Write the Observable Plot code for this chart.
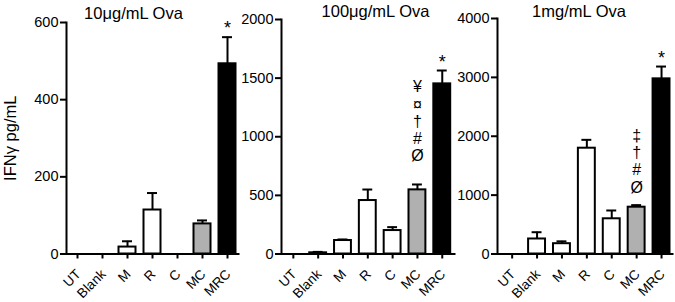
<!DOCTYPE html>
<html><head><meta charset="utf-8">
<script src="https://cdn.jsdelivr.net/npm/d3@7"></script>
<script src="https://cdn.jsdelivr.net/npm/@observablehq/plot@0.6"></script>
<style>
html,body{margin:0;padding:0;background:#fff;}
#chart{position:relative;width:675px;height:302px;font-family:"Liberation Sans",Arial,Helvetica,sans-serif;}
#chart svg{position:absolute;left:0;top:0;}
</style></head><body><div id="chart"></div>
<script>
// ---- data ----
const categories = ["UT", "Blank", "M", "R", "C", "MC", "MRC"];
const titles = ["10\u03bcg/mL Ova", "100\u03bcg/mL Ova", "1mg/mL Ova"];
const yLabel = "IFN\u03b3 pg/mL";

const mean10 = [0, 0, 18, 114, 0, 78, 493];
const err10  = [0, 0, 15, 44, 0, 9, 69];
const mean100 = [0, 10, 115, 456, 200, 547, 1451];
const err100  = [0, 8, 9, 94, 29, 46, 114];
const mean1mg = [0, 255, 175, 1797, 598, 795, 2975];
const err1mg  = [0, 115, 40, 142, 141, 35, 209];

const ticks10 = [0, 200, 400, 600];
const ticks100 = [0, 500, 1000, 1500, 2000];
const ticks1mg = [0, 1000, 2000, 3000, 4000];

const starCat = "MRC";
const symCat = "MC";
const sym10 = [];
const sym100 = ["\u00a5", "\u00a4", "\u2020", "#", "\u00d8"];
const sym1mg = ["\u2021", "\u2020", "#", "\u00d8"];

// ---- layout / style ----
const FONT = '"Liberation Sans", Arial, Helvetica, sans-serif';
const fillFor = c => c === "MC" ? "#b0b0b0" : c === "MRC" ? "#000" : "#fff";

const panels = [
  {title: titles[0], mean: mean10, err: err10, ticks: ticks10, syms: sym10,
   ml: 66, mr: 675 - 238, mt: 22, range: [68.5, 235.5], tdx: -19, tdy: -4, sdy: -12, ylab: true},
  {title: titles[1], mean: mean100, err: err100, ticks: ticks100, syms: sym100,
   ml: 281, mr: 675 - 454, mt: 19, range: [284.4, 450.2], tdx: 7.5, tdy: -2.5, sdy: -23},
  {title: titles[2], mean: mean1mg, err: err1mg, ticks: ticks1mg, syms: sym1mg,
   ml: 497, mr: 3, mt: 18, range: [503.2, 669.5], tdx: -6, tdy: -1.5, sdy: -12.5}
];

const chart = document.getElementById("chart");

for (const p of panels) {
  const data = categories.map((c, i) => ({cat: c, mean: p.mean[i], top: p.mean[i] + p.err[i]}));
  const errData = data.filter(d => d.top > d.mean);
  const star = data.filter(d => d.cat === starCat);
  const symData = p.syms.length ? data.filter(d => d.cat === symCat) : [];
  const ymax = p.ticks[p.ticks.length - 1];

  const marks = [
    Plot.ruleX(errData, {x: "cat", y1: "mean", y2: "top", stroke: "#000", strokeWidth: 2}),
    Plot.tickY(errData, {x: "cat", y: "top", stroke: "#000", strokeWidth: 2, insetLeft: 3.5, insetRight: 3.5}),
    Plot.barY(data.filter(d => d.mean > 0), {x: "cat", y: "mean", fill: d => fillFor(d.cat), stroke: "#000", strokeWidth: 2}),
    Plot.frame({anchor: "left", stroke: "#000", strokeWidth: 2}),
    Plot.frame({anchor: "bottom", stroke: "#000", strokeWidth: 2}),
    Plot.axisY({ticks: p.ticks, tickSize: 6, tickPadding: 2, fontSize: 14.5, strokeWidth: 2, label: null, tickFormat: d => String(d)}),
    Plot.axisX({tickSize: 5, strokeWidth: 2, tickFormat: () => "", label: null}),
    Plot.text(categories, {x: d => d, text: d => d, frameAnchor: "bottom", rotate: -45, textAnchor: "end", dx: 4, dy: 21, fontSize: 13.5, fill: "#000"}),
    Plot.text(star, {x: "cat", y: "top", text: () => "*", lineAnchor: "bottom", dy: -3, fontSize: 18, fill: "#000"}),
    Plot.text(symData, {x: "cat", y: "top", text: () => p.syms.join("\n"), lineAnchor: "bottom", lineHeight: 1.08, dy: p.sdy, fontSize: 16, fill: "#000"}),
    Plot.text([p.title], {frameAnchor: "top", lineAnchor: "bottom", dx: p.tdx, dy: p.tdy, fontSize: 16.5, fill: "#000"})
  ];
  if (p.ylab) {
    marks.push(Plot.text([yLabel], {frameAnchor: "left", textAnchor: "middle", rotate: -90, dx: -56, fontSize: 16.5, fill: "#000"}));
  }

  const svg = Plot.plot({
    width: 675,
    height: 302,
    marginLeft: p.ml,
    marginRight: p.mr,
    marginTop: p.mt,
    marginBottom: 48.5,
    style: {background: "transparent", overflow: "visible", fontFamily: FONT, color: "#000"},
    x: {type: "band", domain: categories, range: p.range, paddingInner: 0.32, paddingOuter: 0, round: false, axis: null},
    y: {domain: [0, ymax], axis: null},
    marks
  });
  chart.appendChild(svg);
}
</script>
</body></html>
